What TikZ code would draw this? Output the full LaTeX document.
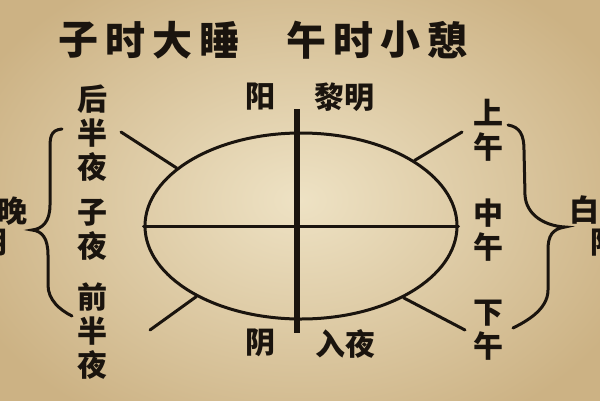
\documentclass[tikz,border=0pt]{standalone}
\usepackage{fontspec}
\newfontfamily\cjk{Noto Sans CJK SC}
\usetikzlibrary{shapes.geometric}
\definecolor{ink}{RGB}{26,20,14}
\definecolor{paperin}{RGB}{238,226,196}
\definecolor{paperout}{RGB}{204,178,132}

\begin{document}
\begin{tikzpicture}[x=1pt, y=-1pt,
  ttl/.style={font=\cjk\bfseries\fontsize{40}{40}\selectfont, text=ink, inner sep=0pt},
  lbl/.style={font=\cjk\bfseries\fontsize{30}{34}\selectfont, text=ink, align=center, inner sep=0pt},
  ln/.style={draw=ink, line width=3pt, line cap=round}]
\useasboundingbox (0,0) rectangle (600,400);
\clip (0,0) rectangle (600,400);
\shade[inner color=paperin, outer color=paperout] (-60,-60) rectangle (660,460);

% title
\foreach \c [count=\i] in {子,时,大,睡}
  \node[ttl] (l\i) at (31+47*\i,40) {\c};
\foreach \c [count=\i] in {午,时,小,憩}
  \node[ttl] (r\i) at (259+47*\i,40) {\c};

% ellipse and cross
\node[ellipse, draw=ink, line width=3pt, minimum width=312pt,
  minimum height=186pt, inner sep=0pt] (ell) at (301,226) {};
\coordinate (vtop) at (297,109);
\coordinate (vbot) at (297,333);
\draw[ln] (ell.west) -- (ell.east);
\draw[ink, line width=6pt] (vtop) -- (vbot);

% labels
\node[lbl] (hbx) at (92,133) {后\\半\\夜};
\node[lbl] (zy) at (92,230) {子\\夜};
\node[lbl] (qbx) at (92,331) {前\\半\\夜};
\node[lbl] (sw) at (488,130) {上\\午};
\node[lbl] (zw) at (488,230) {中\\午};
\node[lbl] (xw) at (488,330) {下\\午};
\node[lbl] (yang) at (260,97) {阳};
\node[lbl] (lm) at (344,97) {黎明};
\node[lbl] (yin) at (260,343) {阴};
\node[lbl] (ry) at (345,344) {入夜};
\node[lbl] (wan) at (13,211) {晚};
\node[lbl] (wyin) at (-7,243) {阴};
\node[lbl] (bai) at (584,210) {白};
\node[lbl] (byang) at (605,243) {阳};

% spokes
\coordinate (tl) at (121,132);
\coordinate (bl) at (150,330);
\coordinate (tr) at (462,132);
\coordinate (br) at (465,330);
\draw[ln] (tl) -- (ell.155);
\draw[ln] (bl) -- (ell.214);
\draw[ln] (tr) -- (ell.30);
\draw[ln] (br) -- (ell.325);

% braces
\draw[ln] (62,129) .. controls (50,130) and (50,138) .. (50,150) -- (50,205)
  .. controls (50,222) and (42,229) .. (32,230)
  .. controls (42,231) and (48,238) .. (48,255) -- (48,285)
  .. controls (48,300) and (60,310) .. (72,316);
\draw[ln] (508,125) .. controls (520,127) and (524,135) .. (524,150) -- (525,195)
  .. controls (526,215) and (545,226) .. (565,227)
  .. controls (552,229) and (548,236) .. (548,250) -- (548,290)
  .. controls (548,310) and (525,322) .. (513,328);
\end{tikzpicture}
\end{document}
